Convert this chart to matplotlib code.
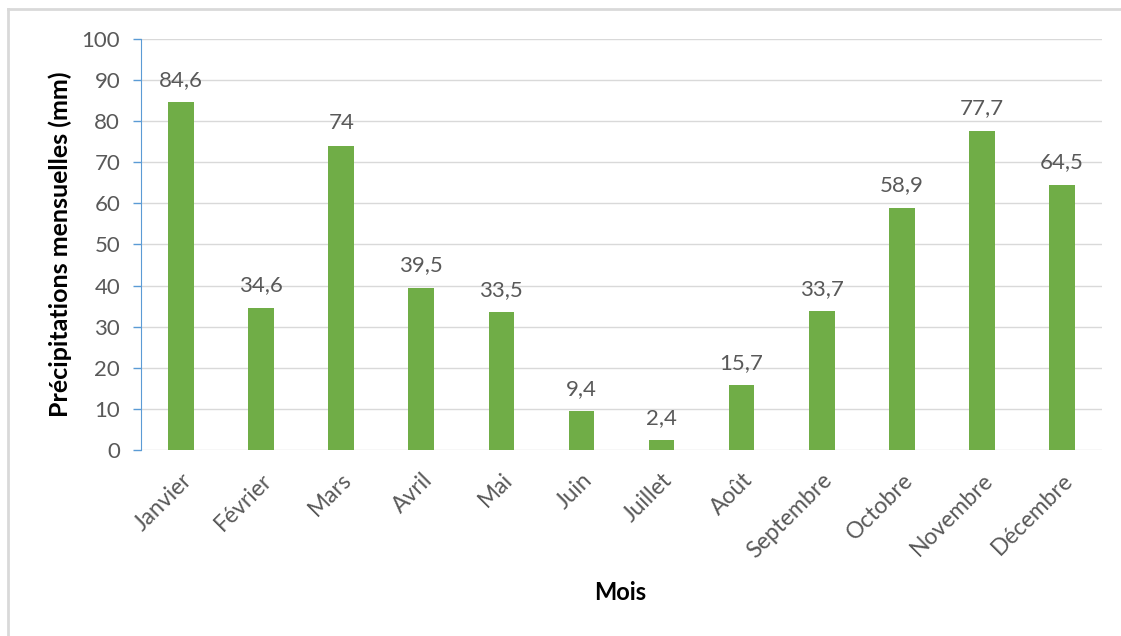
import matplotlib
matplotlib.use("Agg")
import matplotlib.pyplot as plt
from matplotlib.lines import Line2D

mois = ["Janvier", "Février", "Mars", "Avril", "Mai", "Juin", "Juillet",
        "Août", "Septembre", "Octobre", "Novembre", "Décembre"]
precip = [84.6, 34.6, 74, 39.5, 33.5, 9.4, 2.4, 15.7, 33.7, 58.9, 77.7, 64.5]

plt.rcParams["font.family"] = ["Lato", "DejaVu Sans"]
txt = "#595959"

fig = plt.figure(figsize=(11.21, 6.36), dpi=100)
ax = fig.add_axes([141 / 1121, 1 - 450 / 636, 961 / 1121, 411 / 636])

x = range(len(mois))
ax.bar(x, precip, width=0.32, color="#70AD47", zorder=3)

for xi, v in zip(x, precip):
    lab = f"{v:g}".replace(".", ",")
    ax.annotate(lab, (xi, v), xytext=(0, 9), textcoords="offset points",
                ha="center", va="bottom", fontsize=16, color=txt)

ax.set_xlim(-0.5, len(mois) - 0.5)
ax.set_ylim(0, 100)
ax.set_yticks(range(0, 101, 10))
ax.set_xticks(list(x))
ax.set_xticklabels(mois, rotation=45, ha="right", rotation_mode="anchor",
                   fontsize=16.5, color=txt)
ax.tick_params(axis="y", labelsize=16, labelcolor=txt, color="#5B9BD5",
               length=6, width=1, pad=9)
ax.tick_params(axis="x", length=0, pad=14)

ax.grid(axis="y", color="#D9D9D9", linewidth=1, zorder=0)
for s in ["top", "right", "bottom"]:
    ax.spines[s].set_visible(False)
ax.spines["left"].set_color("#5B9BD5")
ax.spines["left"].set_zorder(4)

ax.set_ylabel("Précipitations mensuelles (mm)", fontsize=18, fontweight="bold",
              color="black", labelpad=7)
fig.text(620 / 1121, 1 - 592 / 636, "Mois", fontsize=17, fontweight="bold",
         color="black", ha="center", va="center")

# light frame around the chart area (top and left edges)
fig.add_artist(Line2D([8 / 1121, 1], [1 - 9 / 636, 1 - 9 / 636],
                      transform=fig.transFigure, color="#D9D9D9", linewidth=2))
fig.add_artist(Line2D([8 / 1121, 8 / 1121], [0, 1 - 9 / 636],
                      transform=fig.transFigure, color="#D9D9D9", linewidth=2))

fig.savefig("out.png", dpi=100)
